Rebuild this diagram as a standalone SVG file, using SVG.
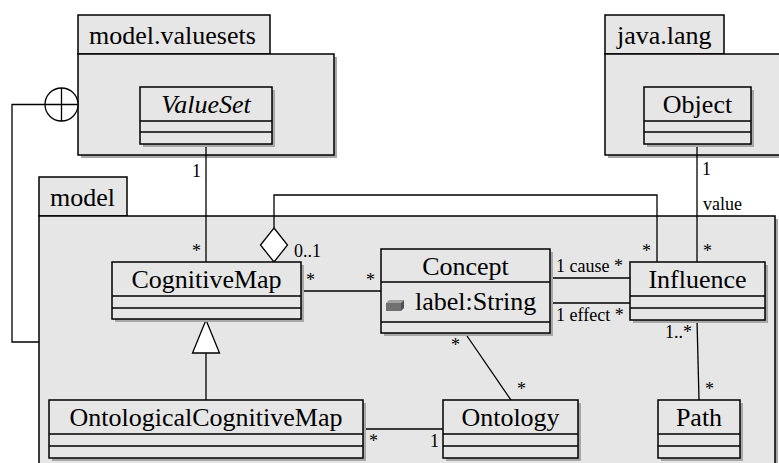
<svg xmlns="http://www.w3.org/2000/svg" width="779" height="463" viewBox="0 0 779 463">
<style>
.pkg{fill:#e6e6e6;stroke:#000;stroke-width:1.5}
.sh{fill:#a8a8a8}
.cls{fill:#e6e6e6;stroke:#000;stroke-width:1.5}
.dv{stroke:#000;stroke-width:1.5}
.nm{font-family:"Liberation Serif","Times New Roman",serif;font-size:26px;text-anchor:middle;fill:#000}
.tb{font-family:"Liberation Serif","Times New Roman",serif;font-size:26px;fill:#000}
.lb{font-family:"Liberation Serif","Times New Roman",serif;font-size:18px;fill:#000}
.ln{fill:none;stroke:#000;stroke-width:1.3}
</style>
<g id="pkg-model-valuesets">
<rect class="sh" x="81" y="57" width="256" height="101"/>
<rect class="pkg" x="78" y="15" width="192" height="39"/>
<rect class="pkg" x="78" y="54" width="256" height="101"/>
<text class="tb" x="89" y="44">model.valuesets</text>
</g>
<g id="pkg-java-lang">
<rect class="sh" x="608" y="57" width="200" height="101"/>
<rect class="pkg" x="605" y="15" width="119" height="39"/>
<rect class="pkg" x="605" y="54" width="200" height="101"/>
<text class="tb" x="617" y="44">java.lang</text>
</g>
<g id="pkg-model">
<rect class="sh" x="42" y="219" width="736" height="260"/>
<rect class="pkg" x="39" y="177" width="88" height="39"/>
<rect class="pkg" x="39" y="216" width="736" height="260"/>
<text class="tb" x="50" y="206">model</text>
</g>
<g id="connectors">
<path class="ln" d="M45 104.5H12V342H39"/>
<circle cx="61.5" cy="104.5" r="16.5" fill="#fff" stroke="#000" stroke-width="1.3"/>
<path class="ln" d="M45 104.5H78M61.5 88V121"/>
<path class="ln" d="M206 144V262"/>
<text class="lb" x="192" y="177">1</text>
<text class="lb" x="192" y="257">*</text>
<path class="ln" d="M657 262V195H274V228"/>
<polygon points="274,228 287.5,245 274,262 260.5,245" fill="#fff" stroke="#000" stroke-width="1.3"/>
<text class="lb" x="294" y="257">0..1</text>
<text class="lb" x="642" y="257">*</text>
<path class="ln" d="M697 144V262"/>
<text class="lb" x="702" y="175">1</text>
<text class="lb" x="703" y="210">value</text>
<text class="lb" x="703" y="257">*</text>
<path class="ln" d="M301 291H381"/>
<text class="lb" x="306" y="286">*</text>
<text class="lb" x="366" y="286">*</text>
<path class="ln" d="M550 278H630M550 303H630"/>
<text class="lb" x="556" y="272">1 cause *</text>
<text class="lb" x="556" y="321">1 effect *</text>
<path class="ln" d="M697 320L699 400"/>
<text class="lb" x="665" y="338">1..*</text>
<text class="lb" x="705" y="395">*</text>
<path class="ln" d="M465 333L511 400"/>
<text class="lb" x="451" y="351">*</text>
<text class="lb" x="517" y="395">*</text>
<path class="ln" d="M363 429H443"/>
<text class="lb" x="369" y="447">*</text>
<text class="lb" x="430" y="447">1</text>
<path d="M206 320L219.5 353H192.5Z" fill="#fff" stroke="#000" stroke-width="1.3"/>
<path class="ln" d="M206 353V400"/>
</g>
<g id="ValueSet">
<rect class="sh" x="143" y="90" width="132" height="57"/>
<rect class="cls" x="140" y="87" width="132" height="57"/>
<path class="dv" d="M140 121H272M140 132H272"/>
<text class="nm" x="206" y="113" font-style="italic">ValueSet</text>
</g>
<g id="Object">
<rect class="sh" x="647" y="90" width="107" height="57"/>
<rect class="cls" x="644" y="87" width="107" height="57"/>
<path class="dv" d="M644 121H751M644 132H751"/>
<text class="nm" x="697.5" y="113">Object</text>
</g>
<g id="CognitiveMap">
<rect class="sh" x="115" y="265" width="189" height="57"/>
<rect class="cls" x="112" y="262" width="189" height="57"/>
<path class="dv" d="M112 296H301M112 308H301"/>
<text class="nm" x="206.5" y="288">CognitiveMap</text>
</g>
<g id="Concept">
<rect class="sh" x="384" y="252" width="169" height="84"/>
<rect class="cls" x="381" y="249" width="169" height="84"/>
<path class="dv" d="M381 282H550M381 322H550"/>
<text class="nm" x="465.5" y="275">Concept</text>
<polygon points="386,303 389,300 404,300 401,303" fill="#a0a0a0"/>
<polygon points="401,303 404,300 404,308 401,311" fill="#505050"/>
<rect x="386" y="303" width="15" height="8" fill="#707070"/>
<text class="tb" x="415" y="310">label:String</text>
</g>
<g id="Influence">
<rect class="sh" x="633" y="265" width="135" height="58"/>
<rect class="cls" x="630" y="262" width="135" height="58"/>
<path class="dv" d="M630 296H765M630 308H765"/>
<text class="nm" x="697.5" y="288">Influence</text>
</g>
<g id="OntologicalCognitiveMap">
<rect class="sh" x="52" y="403" width="314" height="58"/>
<rect class="cls" x="49" y="400" width="314" height="58"/>
<path class="dv" d="M49 434H363M49 446H363"/>
<text class="nm" x="206" y="426">OntologicalCognitiveMap</text>
</g>
<g id="Ontology">
<rect class="sh" x="446" y="403" width="135" height="58"/>
<rect class="cls" x="443" y="400" width="135" height="58"/>
<path class="dv" d="M443 434H578M443 446H578"/>
<text class="nm" x="510.5" y="426">Ontology</text>
</g>
<g id="Path">
<rect class="sh" x="661" y="403" width="82" height="58"/>
<rect class="cls" x="658" y="400" width="82" height="58"/>
<path class="dv" d="M658 434H740M658 446H740"/>
<text class="nm" x="699" y="426">Path</text>
</g>
</svg>
